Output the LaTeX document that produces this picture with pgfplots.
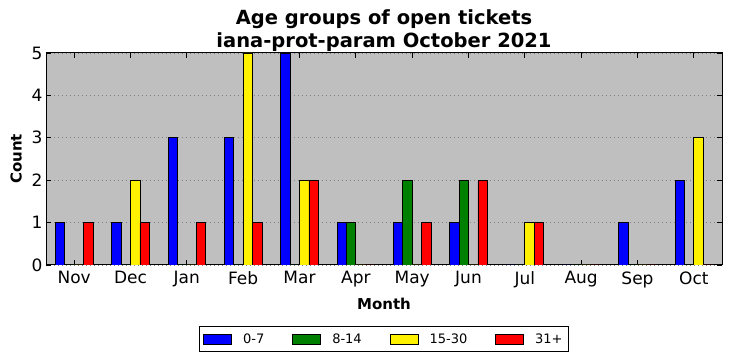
\documentclass[border=0pt]{standalone}
\usepackage{pgfplots}
\pgfplotsset{compat=1.18}
\usepackage{fontspec}
\setmainfont{DejaVu Sans}
\definecolor{bg}{HTML}{BFBFBF}
\definecolor{mgreen}{HTML}{008000}
\begin{document}
\begin{tikzpicture}[x=1pt,y=1pt]
\path[use as bounding box] (0,0) rectangle (732,361);
\begin{axis}[
 at={(46pt,96pt)}, anchor=south west,
 scale only axis, width=676pt, height=212pt,
 xmin=-0.5, xmax=11.5, ymin=0, ymax=5,
 ybar=0pt, bar width=9.4pt,
 xtick={0,...,11}, xticklabels={Nov,Dec,Jan,Feb,Mar,Apr,May,Jun,Jul,Aug,Sep,Oct},
 ytick={0,...,5},
 tick align=inside, xtick pos=both, ytick pos=both,
 major tick length=5pt,
 tick style={black, line width=0.8pt},
 axis background/.style={fill=bg},
 ymajorgrids, grid style={dash pattern=on 1pt off 3pt, black!50, line width=0.7pt},
 axis line style={line width=1pt},
 ticklabel style={font=\fontsize{17}{17}\selectfont},
 xticklabel style={yshift=-3pt},
 /pgf/number format/assume math mode=true,
 xlabel={Month}, ylabel={Count},
 xlabel shift=3pt, ylabel shift=3pt,
 label style={font=\fontsize{15}{15}\selectfont\bfseries},
 title={Age groups of open tickets\\iana-prot-param October 2021},
 title style={font=\fontsize{19.5}{22.5}\selectfont\bfseries, align=center, yshift=-8pt},
 legend style={at={(0.5,-0.288)}, anchor=north, legend columns=4, font=\fontsize{13}{13}\selectfont, draw=black, line width=0.8pt, inner xsep=4pt, inner ysep=5pt,
   /tikz/every odd column/.append style={column sep=9pt},
   /tikz/every even column/.append style={column sep=26pt}},
 legend image code/.code={\draw[#1,draw=black,line width=0.8pt] (0pt,-5pt) rectangle (28pt,5pt);},
 every axis plot/.append style={draw=black, line width=0.8pt},
]
\addplot[fill=blue] coordinates {(0,1) (1,1) (2,3) (3,3) (4,5) (5,1) (6,1) (7,1) (8,0) (9,0) (10,1) (11,2)};
\addplot[fill=mgreen] coordinates {(0,0) (1,0) (2,0) (3,0) (4,0) (5,1) (6,2) (7,2) (8,0) (9,0) (10,0) (11,0)};
\addplot[fill=yellow] coordinates {(0,0) (1,2) (2,0) (3,5) (4,2) (5,0) (6,0) (7,0) (8,1) (9,0) (10,0) (11,3)};
\addplot[fill=red] coordinates {(0,1) (1,1) (2,1) (3,1) (4,2) (5,0) (6,1) (7,2) (8,1) (9,0) (10,0) (11,0)};
\legend{0-7,8-14,15-30,31+}
\end{axis}
\end{tikzpicture}
\end{document}
